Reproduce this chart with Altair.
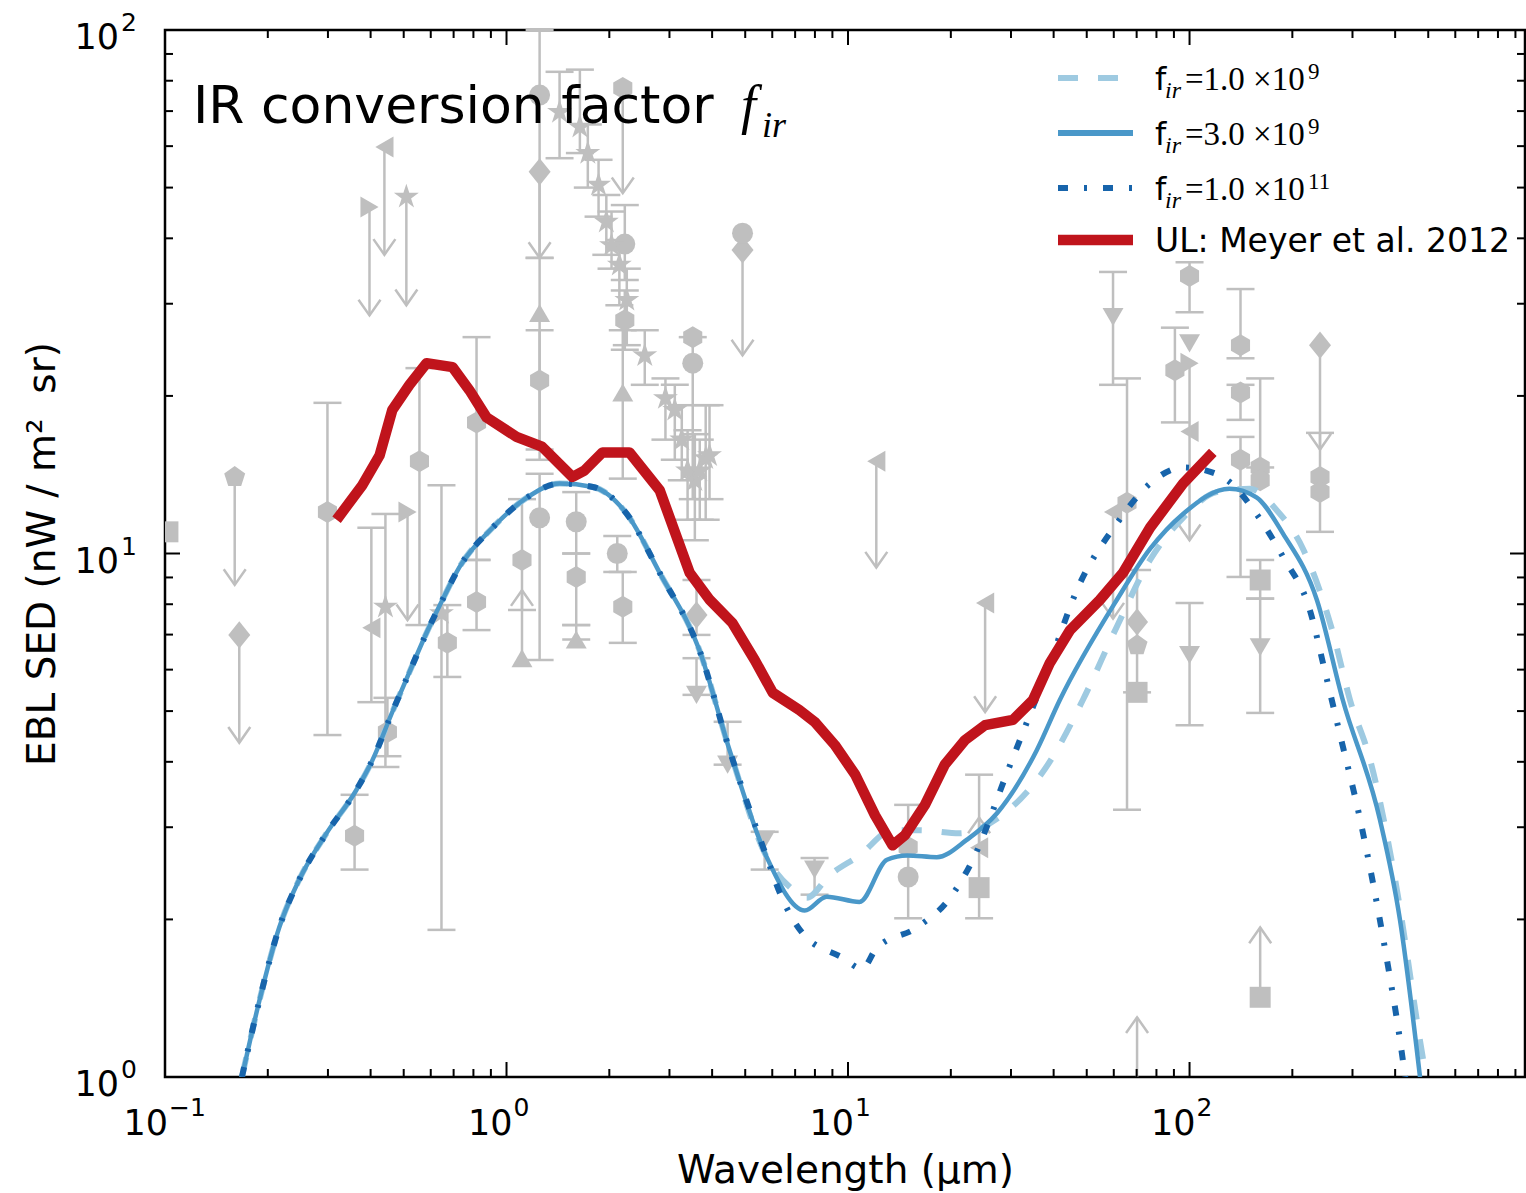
import altair as alt
import pandas as pd

# ---------------- model curves ----------------
# short-wavelength part, identical for the three f_ir models
lam_common = [0.168, 0.189, 0.216, 0.247, 0.297, 0.363, 0.405, 0.463, 0.520, 0.583, 0.649,
              0.728, 0.910, 1.15, 1.43, 1.79, 2.25, 2.81, 3.67, 4.50, 5.78]
sed_common = [1.0, 1.40, 1.93, 2.38, 2.92, 3.53, 4.03, 4.98, 5.94, 7.05, 8.15,
              9.42, 11.2, 12.8, 13.6, 13.4, 11.9, 9.18, 6.54, 4.21, 2.63]

lam_1e9 = [6.89, 7.57, 8.84, 10.8, 13.5, 16.2, 21.2, 27.8, 39.8, 48.7, 61.2, 76.6, 95.7,
           120, 150, 180, 215, 263, 295, 338, 400, 483, 493]
sed_1e9 = [2.28, 2.20, 2.43, 2.65, 2.96, 2.96, 2.92, 3.14, 4.09, 5.25, 7.24, 9.72, 11.7,
           13.1, 13.3, 12.1, 10.2, 7.05, 5.25, 4.03, 2.38, 1.08, 1.0]

lam_3e9 = [7.47, 8.66, 10.8, 13.0, 14.9, 18.2, 22.3, 27.3, 35.7, 41.7, 61.2, 76.6, 95.7,
           131, 157, 188, 236, 281, 361, 413, 473]
sed_3e9 = [2.08, 2.21, 2.16, 2.60, 2.65, 2.63, 2.84, 3.19, 4.21, 5.25, 8.15, 10.2, 11.9,
           13.3, 12.8, 10.9, 8.15, 5.25, 3.10, 2.00, 1.0]

lam_1e11 = [6.31, 7.37, 9.64, 11.0, 12.1, 15.9, 19.9, 23.2, 29.2, 39.0, 46.8, 61.2, 76.6,
            95.7, 112, 131, 157, 188, 225, 250, 276, 316, 374, 413, 428]
sed_1e11 = [2.25, 1.88, 1.69, 1.61, 1.76, 1.93, 2.20, 2.60, 3.81, 6.18, 8.52, 11.4, 13.6,
            14.6, 14.4, 13.7, 11.9, 9.84, 7.80, 5.9, 4.5, 3.10, 1.75, 1.18, 1.0]

lam_ul = [0.318, 0.378, 0.425, 0.463, 0.520, 0.583, 0.695, 0.779, 0.874, 1.07, 1.27, 1.56,
          1.69, 1.91, 2.29, 2.81, 3.44, 3.94, 4.59, 5.33, 6.02, 7.21, 7.98, 9.14, 10.5,
          12.0, 13.5, 14.7, 16.8, 19.2, 22.0, 25.2, 30.4, 34.8, 39.0, 44.7, 54.6, 63.8,
          76.6, 95.7, 117]
sed_ul = [11.6, 13.5, 15.4, 18.8, 21.0, 23.1, 22.7, 20.5, 18.2, 16.7, 16.0, 14.0,
          14.4, 15.6, 15.6, 13.2, 9.18, 8.15, 7.36, 6.26, 5.42, 5.02, 4.77, 4.31, 3.78,
          3.16, 2.77, 2.90, 3.31, 3.95, 4.40, 4.70, 4.81, 5.25, 6.18, 7.14, 8.15, 9.18,
          11.2, 13.6, 15.6]

series_names = ["fir1e9", "fir3e9", "fir1e11", "meyer"]
series_lam = [lam_common + lam_1e9, lam_common + lam_3e9, lam_common + lam_1e11, lam_ul]
series_sed = [sed_common + sed_1e9, sed_common + sed_3e9, sed_common + sed_1e11, sed_ul]
series_color = ["#9ecae1", "#4a98c9", "#1764ab", "#c0141c"]
series_width = [6, 4.5, 6, 10.5]
series_dash = [[20, 20], None, [10, 16, 3, 16], None]
series_interp = ["monotone", "monotone", "monotone", "linear"]

legend_mant = ["=1.0 \u00d710", "=3.0 \u00d710", "=1.0 \u00d710"]
legend_exp = ["9", "9", "11"]
legend_last = "UL: Meyer et al. 2012"

# ---------------- gray EBL measurements ----------------
# points with error bars (hi/lo None = no bar)
ep_lam = [0.299, 0.359, 0.402, 0.442, 0.448, 0.556, 0.645, 0.671, 0.817, 0.817, 1.11, 1.25,
          1.25, 1.25, 1.25, 1.60, 1.60, 1.60, 2.11, 2.19, 2.19, 2.22, 2.22, 1.43, 1.64, 1.73,
          1.86, 1.96, 2.03, 2.14, 2.25, 2.54, 2.92, 3.11, 3.26, 3.39, 3.56, 3.68, 3.83, 3.93,
          3.51, 3.51, 3.60, 3.60, 4.44, 5.70, 7.98, 15.0, 15.0, 24.2, 24.2, 59.7, 65.6, 70.2,
          70.2, 70.2, 90.6, 100, 100, 141, 141, 141, 161, 161, 161, 161, 241, 241, 0.102,
          100, 100, 4.91]
ep_val = [12.0, 2.89, 7.21, 7.91, 4.56, 15.0, 7.69, 6.75, 17.8, 8.08, 9.72, 11.7,
          21.4, 28.8, 75.1, 11.5, 9.02, 6.85, 10.0, 7.91, 20.3, 27.9, 39.0, 69.7, 65.3, 58.2,
          50.6, 43.0, 38.8, 35.6, 30.5, 23.9, 19.8, 18.8, 16.5, 14.4, 13.8, 14.4, 15.2, 15.4,
          23.1, 25.9, 7.63, 5.37, 3.95, 2.84, 2.49, 2.41, 2.75, 2.30, 2.74, 28.3, 12.5, 7.40,
          6.68, 5.43, 22.4, 6.40, 33.9, 25.0, 20.3, 15.1, 14.6, 13.8, 8.90, 6.62, 14.0, 13.1,
          11.0, 25.2, 17.1, 38.0]
ep_hi = [19.4, 3.46, 11.2, 11.9, 5.30, 22.6, 13.5, 7.97, 25.9, 9.72, 12.7, 14.2,
         26.7, 36.7, 100, 13.1, 10.0, 7.30, 10.8, 9.22, 26.7, 31.8, 46.3, 83.2, 84.0, 66.0,
         56.5, 48.4, 45.0, 39.7, 35.0, 26.7, 21.6, 21.0, 19.2, 17.2, 16.9, 16.5, 19.2, 19.2,
         25.9, None, 8.90, 6.31, 4.77, 2.94, 2.62, 3.31, None, 3.78, None, 34.5, 21.6, 9.30,
         None, None, 27.0, 8.04, 36.0, 32.0, 21.0, 16.7, 21.6, None, 9.72, 8.20, 17.0, None,
         None, None, None, None]
ep_lo = [4.50, 2.49, 5.20, 3.91, 4.10, 7.30, 1.91, 5.81, 9.72, 7.14, 7.80, 6.26,
         15.1, 15.8, 36.7, 10.0, 7.30, 6.85, 9.22, 6.75, 13.9, 24.5, 33.3, 56.9, 58.2, 50.0,
         44.0, 37.2, 35.0, 29.8, 25.0, 21.0, 16.5, 15.1, 13.8, 11.6, 10.6, 11.6, 11.6, 12.7,
         12.7, None, 6.99, 5.37, 3.95, 2.49, 2.23, 2.01, None, 2.01, None, 21.0, 3.24, 5.43,
         None, None, 17.8, 4.70, 28.9, 23.6, 18.0, 9.02, 14.6, None, 8.20, 4.96, 11.0, None,
         None, None, None, None]
ep_shape = ["hexagon", "hexagon", "triangle-left", "star", "hexagon", "hexagon", "star", "hexagon",
            "hexagon", "hexagon", "hexagon", "circle", "hexagon", "triangle-up", "circle", "circle",
            "hexagon", "triangle-up", "circle", "hexagon", "triangle-up", "hexagon", "circle",
            "star", "star", "star", "star", "star", "star", "star", "star", "star", "star", "star",
            "star", "star", "star", "star", "star", "star", "circle", "hexagon", "diamond",
            "triangle-down", "triangle-down", "triangle-down", "triangle-down", "circle", "hexagon",
            "square", "triangle-left", "triangle-down", "hexagon", "diamond", "pentagon", "square",
            "hexagon", "triangle-down", "hexagon", "hexagon", "hexagon", "hexagon", "hexagon",
            "hexagon", "square", "triangle-down", "hexagon", "hexagon", "square", "triangle-down",
            "triangle-left", "diamond"]

# upper limits: marker at value, arrow down to tip
ul_lam = [0.160, 0.165, 0.397, 0.439, 0.509, 0.513, 1.25, 2.19, 4.91, 12.1, 25.2, 59.7, 100, 241]
ul_val = [14.0, 6.99, 45.9, 59.8, 48.0, 12.0, 53.6, 77.5, 40.9, 15.0, 8.04, 12.0, 23.1, 25.0]
ul_tip = [8.71, 4.35, 28.5, 37.2, 29.8, 7.46, 36.7, 48.8, 23.9, 9.40, 4.98, 7.51, 10.6, 15.8]
ul_shape = ["pentagon", "diamond", "triangle-right", "triangle-left", "star", "triangle-right",
            "diamond", "hexagon", "circle", "triangle-left", "triangle-left", "triangle-left",
            "triangle-right", "diamond"]

# lower limits: marker at value, arrow up to tip ("" = bare arrow)
ll_lam = [1.11, 161, 70.2, 24.2]
ll_val = [6.31, 1.42, 1.0, 2.74]
ll_tip = [8.51, 1.93, 1.30, 3.13]
ll_shape = ["triangle-up", "square", "", ""]

# axis ticks and tick labels (10^k)
x_major = [0.1, 1, 10, 100]
x_exp = ["\u22121", "0", "1", "2"]
x_minor = [m * d for d in (0.1, 1, 10, 100) for m in range(2, 10)]
y_major = [1, 10, 100]
y_exp = ["0", "1", "2"]
y_minor = [m * d for d in (1, 10) for m in range(2, 10)]

# ---------------- chart ----------------
W, H = 1360, 1047
GRAY = "#bfbfbf"
FONT = "DejaVu Sans"
xs = alt.Scale(type="log", domain=[0.1, 960], nice=False)
ys = alt.Scale(type="log", domain=[1, 100], nice=False)

x_axis = alt.Axis(title="Wavelength (\u03bcm)", values=x_major, labels=False,
                  ticks=False, domain=False, grid=False,
                  titleFontSize=39, titleFont=FONT, titleFontWeight="normal", titleColor="black",
                  titlePadding=74)
y_axis = alt.Axis(title="EBL SED (nW / m\u00b2\u00a0 sr)", values=y_major, labels=False,
                  ticks=False, domain=False, grid=False,
                  titleFontSize=39, titleFont=FONT, titleFontWeight="normal", titleColor="black",
                  titlePadding=103)

HEX = "M0,-1.05L0.91,-0.525L0.91,0.525L0,1.05L-0.91,0.525L-0.91,-0.525Z"
PENT = "M0,-1.05L1.0,-0.325L0.617,0.85L-0.617,0.85L-1.0,-0.325Z"
STAR = ("M0,-1.25L0.279,-0.384L1.189,-0.386L0.452,0.147L0.735,1.011L0,0.475L-0.735,1.011"
        "L-0.452,0.147L-1.189,-0.386L-0.279,-0.384Z")
DIAM = "M0,-1.3L1.05,0L0,1.3L-1.05,0Z"
shape_scale = alt.Scale(
    domain=["circle", "square", "diamond", "triangle-up", "triangle-down", "triangle-left",
            "triangle-right", "hexagon", "pentagon", "star"],
    range=["circle", "square", DIAM, "triangle-up", "triangle-down", "triangle-left",
           "triangle-right", HEX, PENT, STAR])
ARROW_DOWN = "M-0.7,-1L0,0L0.7,-1"
ARROW_UP = "M-0.7,1L0,0L0.7,1"

ep = pd.DataFrame({"lam": ep_lam, "val": ep_val, "hi": ep_hi, "lo": ep_lo, "shape": ep_shape})
ep_bars = ep.dropna(subset=["hi", "lo"])
ul = pd.DataFrame({"lam": ul_lam, "val": ul_val, "tip": ul_tip, "shape": ul_shape})
ll = pd.DataFrame({"lam": ll_lam, "val": ll_val, "tip": ll_tip, "shape": ll_shape})
ll_marks = ll[ll["shape"] != ""]


def X(f):
    return alt.X(f"{f}:Q", scale=xs, axis=x_axis)


def Y(f):
    return alt.Y(f"{f}:Q", scale=ys, axis=y_axis)


layers = []
# error bars
layers.append(alt.Chart(ep_bars).mark_rule(color=GRAY, strokeWidth=2.5)
              .encode(x=X("lam"), y=Y("lo"), y2="hi:Q"))
for c in ("hi", "lo"):
    layers.append(alt.Chart(ep_bars).mark_tick(color=GRAY, orient="horizontal", size=28,
                                               thickness=2.5, opacity=1)
                  .encode(x=X("lam"), y=Y(c)))
# limits
layers.append(alt.Chart(ul).mark_rule(color=GRAY, strokeWidth=2.5)
              .encode(x=X("lam"), y=Y("tip"), y2="val:Q"))
layers.append(alt.Chart(ul).mark_point(shape=ARROW_DOWN, size=986, filled=False, color=GRAY,
                                       strokeWidth=2.5, opacity=1)
              .encode(x=X("lam"), y=Y("tip")))
layers.append(alt.Chart(ll).mark_rule(color=GRAY, strokeWidth=2.5)
              .encode(x=X("lam"), y=Y("val"), y2="tip:Q"))
layers.append(alt.Chart(ll).mark_point(shape=ARROW_UP, size=986, filled=False, color=GRAY,
                                       strokeWidth=2.5, opacity=1)
              .encode(x=X("lam"), y=Y("tip")))
# markers
for d in (ep, ul, ll_marks):
    layers.append(alt.Chart(d).mark_point(filled=True, color=GRAY, opacity=1, size=440,
                                          strokeWidth=0, clip=True)
                  .encode(x=X("lam"), y=Y("val"),
                          shape=alt.Shape("shape:N", scale=shape_scale, legend=None)))

# model curves
for i, name in enumerate(series_names):
    df = pd.DataFrame({"lam": series_lam[i], "sed": series_sed[i]})
    kw = dict(color=series_color[i], strokeWidth=series_width[i], clip=True,
              interpolate=series_interp[i], strokeJoin="round")
    if series_dash[i] is not None:
        kw["strokeDash"] = series_dash[i]
    layers.append(alt.Chart(df).mark_line(**kw).encode(
        x=X("lam"), y=Y("sed"), order="lam:Q"))


# inward ticks on all four sides
def tick_layer(vals, side, length):
    df = pd.DataFrame({"t": vals})
    m = alt.Chart(df).mark_rule(color="black", strokeWidth=2)
    if side == "bottom":
        return m.encode(x=X("t"), y=alt.value(H), y2=alt.value(H - length))
    if side == "top":
        return m.encode(x=X("t"), y=alt.value(0), y2=alt.value(length))
    if side == "left":
        return m.encode(y=Y("t"), x=alt.value(0), x2=alt.value(length))
    return m.encode(y=Y("t"), x=alt.value(W), x2=alt.value(W - length))


for side in ("bottom", "top"):
    layers.append(tick_layer(x_major, side, 15))
    layers.append(tick_layer(x_minor, side, 8))
for side in ("left", "right"):
    layers.append(tick_layer(y_major, side, 15))
    layers.append(tick_layer(y_minor, side, 8))

# tick labels 10^k (base + raised exponent), placed through the scales
BASE_FS, EXP_FS = 35, 25
for v, e in zip(x_major, x_exp):
    d = pd.DataFrame({"v": [v], "b": ["10"], "e": [e]})
    shift = 3 if e.startswith("\u2212") else 6
    layers.append(alt.Chart(d).mark_text(align="right", baseline="alphabetic", fontSize=BASE_FS,
                                         font=FONT, color="black", dx=shift)
                  .encode(x=X("v"), y=alt.value(H + 58), text="b:N"))
    layers.append(alt.Chart(d).mark_text(align="left", baseline="alphabetic", fontSize=EXP_FS,
                                         font=FONT, color="black", dx=shift + 1)
                  .encode(x=X("v"), y=alt.value(H + 39), text="e:N"))
for v, e in zip(y_major, y_exp):
    d = pd.DataFrame({"v": [v], "b": ["10"], "e": [e]})
    layers.append(alt.Chart(d).mark_text(align="right", baseline="alphabetic", fontSize=BASE_FS,
                                         font=FONT, color="black", dy=19)
                  .encode(y=Y("v"), x=alt.value(-46), text="b:N"))
    layers.append(alt.Chart(d).mark_text(align="right", baseline="alphabetic", fontSize=EXP_FS,
                                         font=FONT, color="black", dy=1)
                  .encode(y=Y("v"), x=alt.value(-28), text="e:N"))


# panel title
def txt(s, x, y, size, font=FONT, style="normal"):
    return alt.Chart(pd.DataFrame({"s": [s]})).mark_text(
        align="left", baseline="alphabetic", fontSize=size, font=font, fontStyle=style,
        color="black").encode(x=alt.value(x), y=alt.value(y), text="s:N")


layers.append(txt("IR conversion factor", 28, 93, 52))
layers.append(txt("f", 576, 93, 54, "Liberation Serif", "italic"))
layers.append(txt("ir", 597, 107, 36, "Liberation Serif", "italic"))

# legend
leg_y = [48, 103, 158, 210]
for i, name in enumerate(series_names):
    kw = dict(color=series_color[i], strokeWidth=6 if i < 3 else 10.5)
    if series_dash[i] is not None:
        kw["strokeDash"] = series_dash[i]
    layers.append(alt.Chart(pd.DataFrame({"s": [name]})).mark_rule(**kw).encode(
        x=alt.value(893), x2=alt.value(968), y=alt.value(leg_y[i])))
for i in range(3):
    b = leg_y[i] + 12
    layers.append(txt("f", 990, b, 32))
    layers.append(txt("ir", 1000, b + 8, 24, "Liberation Serif", "italic"))
    layers.append(txt(legend_mant[i], 1020, b, 33, "Liberation Serif"))
    layers.append(txt(legend_exp[i], 1143, b - 11, 23, "Liberation Serif"))
layers.append(txt(legend_last, 990, leg_y[3] + 12, 33))

chart = alt.layer(*layers).properties(
    width=W, height=H,
    padding={"left": 165, "top": 30, "right": 1, "bottom": 116},
    autosize=alt.AutoSizeParams(type="none"),
    background="white",
).configure_view(stroke="black", strokeWidth=2.5)

chart.save("out.html", embed_options={"renderer": "svg", "actions": False})
